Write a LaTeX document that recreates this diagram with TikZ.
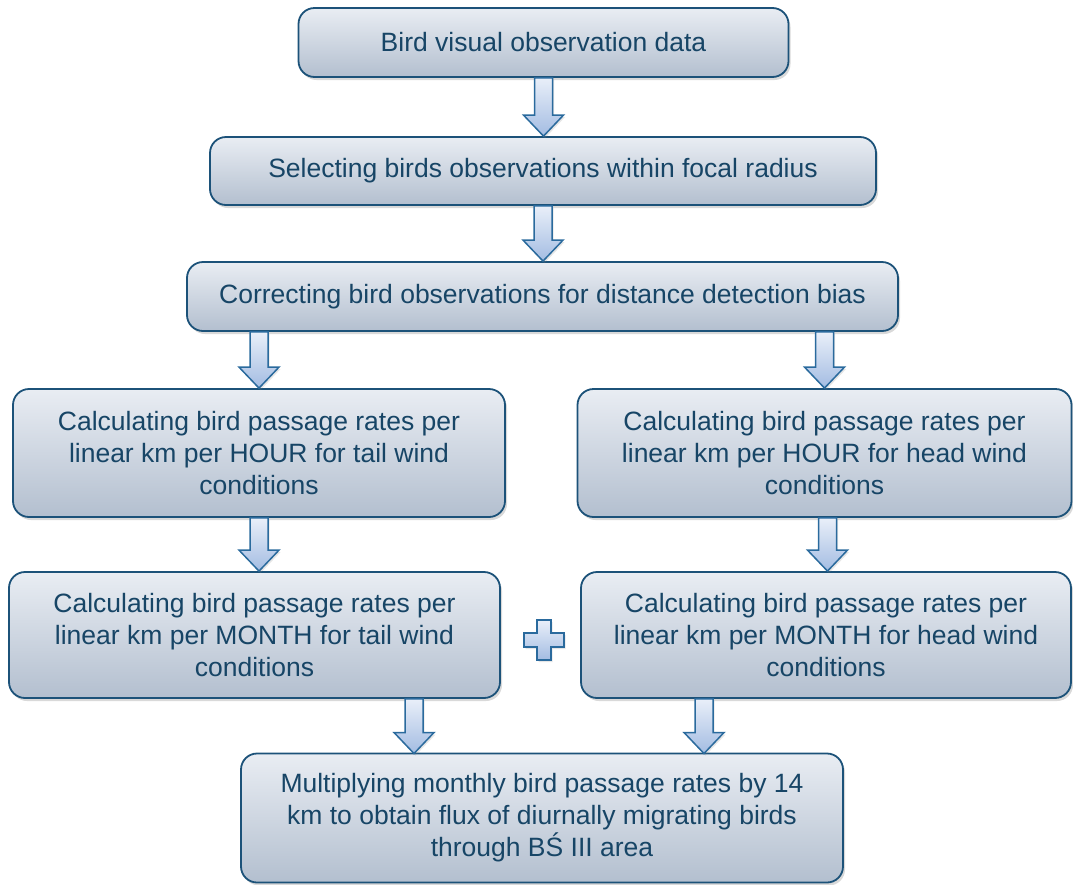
\documentclass[tikz,border=0pt]{standalone}
\usepackage{fontspec}
\setmainfont{Liberation Sans}
\usepackage{xcolor}
\usetikzlibrary{calc,shadows}

\definecolor{boxtop}{HTML}{E9EDF3}
\definecolor{boxbot}{HTML}{B3BFCF}
\definecolor{boxline}{HTML}{1C5279}
\definecolor{boxtext}{HTML}{174566}
\definecolor{arrtop}{HTML}{E9EFF9}
\definecolor{arrbot}{HTML}{A3BCE2}
\definecolor{arrline}{HTML}{2A6A9D}

% vertical block arrow from #1 down to #2
\newcommand{\stagearrow}[2]{%
  \draw[fatarrow] let \p1=(#1), \p2=(#2) in
    (\x1-9pt,\y1) -- (\x1+9pt,\y1) -- (\x1+9pt,\y2+21pt) -- (\x1+20pt,\y2+21pt)
    -- (\x1,\y2) -- (\x1-20pt,\y2+21pt) -- (\x1-9pt,\y2+21pt) -- cycle;}

\begin{document}
\begin{tikzpicture}[x=1pt, y=-1pt,
    stage/.style={draw=boxline, line width=1.8pt, rounded corners=16pt,
      top color=boxtop, bottom color=boxbot, text=boxtext, align=center,
      font=\fontsize{26.5}{32}\selectfont, inner sep=0pt,
      drop shadow={opacity=0.3, shadow xshift=2pt, shadow yshift=-3pt}},
    fatarrow/.style={draw=arrline, line width=1.5pt, line join=miter,
      top color=arrtop, bottom color=arrbot,
      drop shadow={opacity=0.2, shadow xshift=1.5pt, shadow yshift=-2pt}}]
  \useasboundingbox (0,0) rectangle (1073,884);

  \node[stage, minimum width=490pt, minimum height=69pt] (data) at (543.5,42.5) {Bird visual observation data};
  \node[stage, minimum width=666pt, minimum height=68pt] (select) at (543,171) {Selecting birds observations within focal radius};
  \node[stage, minimum width=711pt, minimum height=69pt] (correct) at (542.5,296.5) {Correcting bird observations for distance detection bias};

  \node[stage, minimum width=492pt, minimum height=128pt] (hourtail) at (259,453)
    {Calculating bird passage rates per\\ linear km per HOUR for tail wind\\ conditions};
  \node[stage, minimum width=494pt, minimum height=128pt] (hourhead) at (824.5,453)
    {Calculating bird passage rates per\\ linear km per HOUR for head wind\\ conditions};

  \node[stage, minimum width=491pt, minimum height=126pt] (monthtail) at (254.5,635)
    {Calculating bird passage rates per\\ linear km per MONTH for tail wind\\ conditions};
  \node[stage, minimum width=490pt, minimum height=126pt] (monthhead) at (826,635)
    {Calculating bird passage rates per\\ linear km per MONTH for head wind\\ conditions};

  \node[stage, minimum width=602pt, minimum height=129pt] (flux) at (542,818)
    {Multiplying monthly bird passage rates by 14\\ km to obtain flux of diurnally migrating birds\\ through BŚ III area};

  \coordinate (fluxinl) at (414,753.5);
  \coordinate (fluxinr) at (704,753.5);
  \coordinate (plus) at (544,640);

  \stagearrow{data.south}{select.north}
  \stagearrow{select.south}{correct.north}
  \stagearrow{hourtail.north |- correct.south}{hourtail.north}
  \stagearrow{hourhead.north |- correct.south}{hourhead.north}
  \stagearrow{hourtail.south}{hourtail.south |- monthtail.north}
  \stagearrow{$(hourhead.south)+(3,0)$}{monthhead.north}
  \stagearrow{fluxinl |- monthtail.south}{fluxinl}
  \stagearrow{fluxinr |- monthhead.south}{fluxinr}

  % plus sign between the two monthly boxes
  \draw[fatarrow] (plus) ++(-7,-20) -- ++(14,0) -- ++(0,13) -- ++(13,0) -- ++(0,14)
    -- ++(-13,0) -- ++(0,13) -- ++(-14,0) -- ++(0,-13) -- ++(-13,0) -- ++(0,-14)
    -- ++(13,0) -- cycle;
\end{tikzpicture}
\end{document}
